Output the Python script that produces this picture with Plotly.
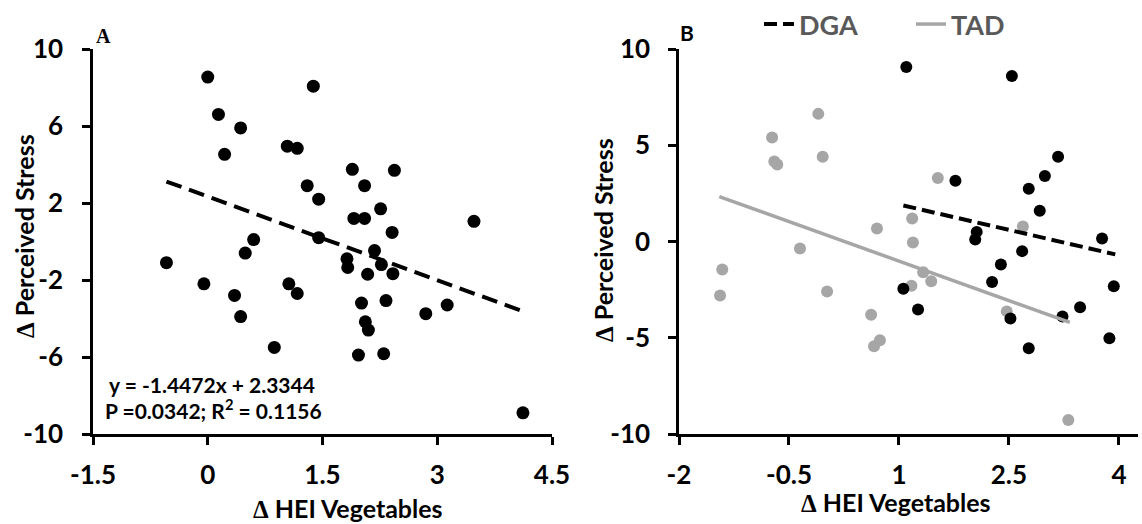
import plotly.graph_objects as go

# ---------------- Panel A data ----------------
a_x = [0.00, 0.14, 0.43, 0.22, 0.60, 0.49, -0.54, -0.05, 0.35, 0.43, 0.87, 1.06, 1.17,
       1.38, 1.04, 1.17, 1.89, 2.44, 1.30, 2.05, 1.45, 2.26, 1.91, 2.05, 3.48, 2.41,
       1.45, 2.18, 1.82, 1.83, 2.09, 2.27, 2.42, 2.01, 2.33, 3.13, 2.85, 2.06, 2.10,
       1.97, 2.30, 4.12]
a_y = [8.54, 6.6, 5.9, 4.53, 0.1, -0.6, -1.1, -2.2, -2.8, -3.9, -5.5, -2.2, -2.7,
       8.07, 4.95, 4.84, 3.75, 3.7, 2.9, 2.9, 2.2, 1.7, 1.2, 1.2, 1.05, 0.47,
       0.2, -0.47, -0.9, -1.35, -1.7, -1.2, -1.67, -3.2, -3.07, -3.3, -3.75, -4.17, -4.6,
       -5.9, -5.83, -8.9]
a_slope = -1.4472
a_intercept = 2.3344
a_eq_text = "y = -1.4472x + 2.3344"
a_stat_text = "P =0.0342; R<sup>2</sup> = 0.1156"

# ---------------- Panel B data ----------------
dga_x = [1.10, 2.54, 3.17, 2.99, 2.77, 1.77, 2.92, 2.06, 2.04, 3.77, 2.68, 2.39, 2.27,
         1.06, 1.26, 2.52, 3.23, 3.47, 3.93, 3.87, 2.77]
dga_y = [9.07, 8.6, 4.4, 3.4, 2.74, 3.16, 1.6, 0.5, 0.1, 0.16, -0.5, -1.2, -2.1,
         -2.45, -3.53, -4.0, -3.9, -3.42, -2.33, -5.03, -5.54]
tad_x = [-0.10, -0.73, -0.70, -0.66, -0.04, -0.35, -1.41, -1.44, 0.02, 0.62, 0.66, 0.74,
         1.17, 1.33, 1.44, 2.47, 3.31, 1.53, 0.70, 1.18, 1.19, 2.69]
tad_y = [6.63, 5.4, 4.15, 4.0, 4.4, -0.36, -1.45, -2.8, -2.6, -3.8, -5.44, -5.13,
         -2.3, -1.6, -2.07, -3.63, -9.27, 3.3, 0.67, 1.2, -0.05, 0.78]
dga_trend_x = [1.06, 3.95]
dga_trend_y = [1.87, -0.67]
tad_trend_x = [-1.45, 3.33]
tad_trend_y = [2.33, -4.2]

a_xticks = [-1.5, 0, 1.5, 3, 4.5]
a_xticklabels = ["-1.5", "0", "1.5", "3", "4.5"]
a_yticks = [-10, -6, -2, 2, 6, 10]
a_yticklabels = ["-10", "-6", "-2", "2", "6", "10"]
b_xticks = [-2, -0.5, 1, 2.5, 4]
b_xticklabels = ["-2", "-0.5", "1", "2.5", "4"]
b_yticks = [-10, -5, 0, 5, 10]
b_yticklabels = ["-10", "-5", "0", "5", "10"]

GREY = "#a6a6a6"
FONT = "Lato"

fig = go.Figure()

fig.add_trace(go.Scatter(x=a_x, y=a_y, mode="markers", xaxis="x", yaxis="y",
                         marker=dict(color="black", size=13), showlegend=False))
a_tx = [min(a_x), max(a_x)]
a_ty = [a_slope * v + a_intercept for v in a_tx]
fig.add_trace(go.Scatter(x=a_tx, y=a_ty, mode="lines", xaxis="x", yaxis="y",
                         line=dict(color="black", width=4, dash="16px,8px"), showlegend=False))

fig.add_trace(go.Scatter(x=tad_x, y=tad_y, mode="markers", xaxis="x2", yaxis="y2",
                         marker=dict(color=GREY, size=12), showlegend=False))
fig.add_trace(go.Scatter(x=dga_x, y=dga_y, mode="markers", xaxis="x2", yaxis="y2",
                         marker=dict(color="black", size=12), showlegend=False))
fig.add_trace(go.Scatter(x=dga_trend_x, y=dga_trend_y, mode="lines", xaxis="x2", yaxis="y2",
                         name="DGA", line=dict(color="black", width=4, dash="13px,6px")))
fig.add_trace(go.Scatter(x=tad_trend_x, y=tad_trend_y, mode="lines", xaxis="x2", yaxis="y2",
                         name="TAD", line=dict(color=GREY, width=3.5)))

W, H = 1142, 524
ybot = 1 - 434 / H
ytop = 1 - 49 / H

axis_common = dict(showline=True, linecolor="black", linewidth=2.5, ticks="outside",
                   tickwidth=2.5, ticklen=8, tickcolor="black", showgrid=False, zeroline=False,
                   tickfont=dict(family=FONT, size=26, color="black", weight="bold"))

fig.update_layout(
    width=W, height=H,
    margin=dict(l=0, r=0, t=0, b=0, autoexpand=False),
    paper_bgcolor="white", plot_bgcolor="white",
    xaxis=dict(domain=[93 / W, 552 / W], range=[-1.5, 4.5], tickvals=a_xticks,
               ticktext=a_xticklabels, anchor="y", ticklabelstandoff=8, **axis_common),
    yaxis=dict(domain=[ybot, ytop], range=[-10, 10], tickvals=a_yticks,
               ticktext=a_yticklabels, anchor="x", ticklabelstandoff=14, **axis_common),
    xaxis2=dict(domain=[679 / W, 1138 / W], range=[-2, 4.26], tickvals=b_xticks,
                ticktext=b_xticklabels, anchor="y2", ticklabelstandoff=8, **axis_common),
    yaxis2=dict(domain=[ybot, ytop], range=[-10, 10], tickvals=b_yticks,
                ticktext=b_yticklabels, anchor="x2", ticklabelstandoff=13, **axis_common),
    legend=dict(orientation="h", x=759 / W, y=1.0, xanchor="left", yanchor="top",
                font=dict(family=FONT, size=27, color="#595959", weight="bold"),
                bgcolor="rgba(0,0,0,0)", entrywidth=107, entrywidthmode="pixels"),
)

title_font = dict(family=FONT, size=25, color="black", weight="bold")
annos = [
    dict(text="<span style='font-family:Liberation Serif'>Δ</span> Perceived Stress",
         x=24 / W, y=1 - 236 / H, textangle=-90, font=title_font),
    dict(text="<span style='font-family:Liberation Serif'>Δ</span> HEI Vegetables",
         x=348 / W, y=1 - 508 / H, font=title_font),
    dict(text="<span style='font-family:Liberation Serif'>Δ</span> Perceived Stress",
         x=603 / W, y=1 - 240 / H, textangle=-90, font=title_font),
    dict(text="<span style='font-family:Liberation Serif'>Δ</span> HEI Vegetables",
         x=896 / W, y=1 - 502 / H, font=title_font),
    dict(text="A", x=94 / W, y=1 - 36 / H, xanchor="left",
         font=dict(family="Liberation Serif", size=20, color="black", weight="bold")),
    dict(text="B", x=678 / W, y=1 - 33 / H, xanchor="left",
         font=dict(family=FONT, size=21, color="black", weight="bold")),
    dict(text=a_eq_text, x=107 / W, y=1 - 384 / H, xanchor="left",
         font=dict(family=FONT, size=21, color="black", weight="bold")),
    dict(text=a_stat_text, x=103 / W, y=1 - 409 / H, xanchor="left",
         font=dict(family=FONT, size=21, color="black", weight="bold")),
]
for a in annos:
    a.update(xref="paper", yref="paper", showarrow=False)
    a.setdefault("xanchor", "center")
    a.setdefault("yanchor", "middle")
fig.update_layout(annotations=annos)

fig.write_html("out.html", config={"displayModeBar": False},
               post_script="document.body.style.margin='0';")
